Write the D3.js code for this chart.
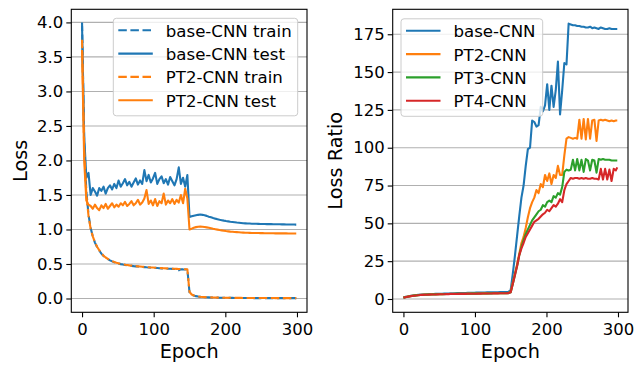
<!DOCTYPE html>
<html lang="en">

<head>
  <meta charset="UTF-8" />
  <title>Loss and Loss Ratio per Epoch</title>
  <script src="https://d3js.org/d3.v7.min.js"></script>
  <style>
    body {
      margin: 0;
      background: #fff;
    }

    svg text {
      font-family: "DejaVu Sans", sans-serif;
      fill: #000;
    }

    .grid line {
      stroke: #b0b0b0;
      stroke-width: 1.1px;
    }

    .series {
      fill: none;
      stroke-width: 2.1px;
      stroke-linejoin: round;
    }
  </style>
</head>

<body>
  <svg width="643" height="371"></svg>

  <script>
    // epochs sampled every 3 (plus the last one)
    const epochs = [
      0, 3, 6, 9, 12, 15, 18, 21, 24, 27, 30, 33, 36, 39, 42, 45, 48, 51, 54, 57,
      60, 63, 66, 69, 72, 75, 78, 81, 84, 87, 90, 93, 96, 99, 102, 105, 108, 111, 114, 117,
      120, 123, 126, 129, 132, 135, 138, 141, 144, 147, 150, 153, 156, 159, 162, 165, 168, 171, 174, 177,
      180, 183, 186, 189, 192, 195, 198, 201, 204, 207, 210, 213, 216, 219, 222, 225, 228, 231, 234, 237,
      240, 243, 246, 249, 252, 255, 258, 261, 264, 267, 270, 273, 276, 279, 282, 285, 288, 291, 294, 297, 299
    ];

    // left panel: loss
    const baseTrain = [
      4.0, 2.25, 1.55, 1.22, 1.02, 0.9, 0.81, 0.745, 0.695, 0.65,
      0.615, 0.59, 0.57, 0.553, 0.538, 0.525, 0.514, 0.505, 0.498, 0.492,
      0.487, 0.482, 0.477, 0.473, 0.469, 0.466, 0.463, 0.46, 0.457, 0.455,
      0.452, 0.45, 0.447, 0.445, 0.443, 0.441, 0.439, 0.437, 0.435, 0.434,
      0.432, 0.43, 0.429, 0.427, 0.426, 0.41, 0.424, 0.422, 0.421, 0.42,
      0.09, 0.055, 0.042, 0.034, 0.028, 0.024, 0.021, 0.019, 0.017, 0.016,
      0.015, 0.014, 0.013, 0.012, 0.011, 0.011, 0.01, 0.01, 0.009, 0.009,
      0.009, 0.008, 0.008, 0.008, 0.008, 0.007, 0.007, 0.007, 0.007, 0.007,
      0.006, 0.006, 0.006, 0.006, 0.006, 0.006, 0.006, 0.006, 0.006, 0.006,
      0.005, 0.005, 0.005, 0.005, 0.005, 0.005, 0.005, 0.005, 0.005, 0.005, 0.005
    ];
    const baseTest = [
      3.95, 2.35, 1.75, 1.82, 1.5, 1.6, 1.55, 1.49, 1.6, 1.56,
      1.62, 1.52, 1.6, 1.64, 1.58, 1.66, 1.6, 1.71, 1.62, 1.67,
      1.73, 1.64, 1.69, 1.62, 1.68, 1.74, 1.65, 1.71, 1.66, 1.86,
      1.7, 1.79, 1.68, 1.74, 1.82, 1.66, 1.73, 1.77, 1.67, 1.73,
      1.65, 1.76, 1.7, 1.64, 1.73, 1.9, 1.66, 1.75, 1.62, 1.79,
      1.18, 1.19, 1.2, 1.206, 1.212, 1.216, 1.212, 1.206, 1.197, 1.186,
      1.176, 1.166, 1.157, 1.149, 1.141, 1.135, 1.128, 1.122, 1.117, 1.112,
      1.108, 1.104, 1.1, 1.097, 1.094, 1.091, 1.089, 1.087, 1.086, 1.084,
      1.083, 1.082, 1.081, 1.08, 1.079, 1.079, 1.078, 1.077, 1.077, 1.076,
      1.076, 1.075, 1.075, 1.074, 1.074, 1.073, 1.073, 1.072, 1.072, 1.071, 1.071
    ];
    const ptTrain = [
      3.75, 2.15, 1.5, 1.2, 1.01, 0.9, 0.815, 0.75, 0.7, 0.655,
      0.62, 0.594, 0.574, 0.557, 0.542, 0.529, 0.518, 0.509, 0.502, 0.496,
      0.49, 0.485, 0.48, 0.476, 0.472, 0.469, 0.466, 0.463, 0.46, 0.458,
      0.455, 0.453, 0.45, 0.448, 0.446, 0.444, 0.442, 0.44, 0.438, 0.437,
      0.435, 0.433, 0.432, 0.43, 0.429, 0.427, 0.426, 0.425, 0.424, 0.423,
      0.095, 0.058, 0.044, 0.035, 0.029, 0.025, 0.022, 0.02, 0.018, 0.017,
      0.016, 0.015, 0.014, 0.013, 0.012, 0.012, 0.011, 0.011, 0.01, 0.01,
      0.01, 0.009, 0.009, 0.009, 0.009, 0.008, 0.008, 0.008, 0.008, 0.008,
      0.007, 0.007, 0.007, 0.007, 0.007, 0.007, 0.007, 0.007, 0.007, 0.007,
      0.006, 0.006, 0.006, 0.006, 0.006, 0.006, 0.006, 0.006, 0.006, 0.006, 0.006
    ];
    const ptTest = [
      3.6, 2.0, 1.42, 1.36, 1.34, 1.3, 1.36, 1.31, 1.28, 1.35,
      1.31, 1.37, 1.3, 1.34, 1.38, 1.32, 1.36, 1.33, 1.38, 1.35,
      1.4, 1.34, 1.37, 1.41, 1.35, 1.38, 1.43, 1.36, 1.39, 1.45,
      1.57, 1.37, 1.42, 1.35, 1.44, 1.34, 1.41, 1.38, 1.52, 1.36,
      1.42, 1.38, 1.44, 1.37, 1.43, 1.39, 1.5, 1.38, 1.59, 1.45,
      1.0, 1.012, 1.025, 1.034, 1.04, 1.043, 1.04, 1.036, 1.03, 1.024,
      1.017, 1.01, 1.004, 0.998, 0.992, 0.987, 0.982, 0.977, 0.973, 0.969,
      0.966, 0.963, 0.961, 0.959, 0.957, 0.955, 0.953, 0.952, 0.951, 0.95,
      0.949, 0.948, 0.948, 0.947, 0.947, 0.946, 0.946, 0.945, 0.945, 0.945,
      0.944, 0.944, 0.944, 0.943, 0.943, 0.943, 0.942, 0.942, 0.942, 0.942, 0.942
    ];

    // right panel: loss ratio
    const baseRatio = [
      1.0, 1.4, 1.7, 2.0, 2.2, 2.4, 2.6, 2.75, 2.9, 3.0,
      3.1, 3.15, 3.2, 3.25, 3.3, 3.35, 3.4, 3.45, 3.5, 3.55,
      3.6, 3.65, 3.7, 3.75, 3.8, 3.85, 3.9, 3.95, 4.0, 4.0,
      4.05, 4.1, 4.1, 4.15, 4.2, 4.2, 4.25, 4.3, 4.3, 4.35,
      4.4, 4.4, 4.45, 4.5, 4.5, 4.55, 4.6, 4.6, 4.65, 4.7,
      6, 17, 29, 42, 55, 67, 75, 88, 99, 100,
      118, 117, 114, 115, 127, 124, 128, 142, 125, 141,
      127, 138, 157, 122, 138, 156, 155, 182, 181.5, 181,
      181, 180.5, 180.5, 180, 180, 179.5, 179.5, 180, 179, 179.5,
      179, 178.5, 179.5, 179, 178.5, 178.5, 179, 178.5, 178.5, 178.5, 178.5
    ];
    const pt2Ratio = [
      1.0, 1.3, 1.6, 1.9, 2.1, 2.3, 2.45, 2.6, 2.7, 2.8,
      2.9, 2.95, 3.0, 3.05, 3.1, 3.1, 3.15, 3.2, 3.2, 3.25,
      3.3, 3.3, 3.35, 3.35, 3.4, 3.4, 3.45, 3.45, 3.5, 3.5,
      3.55, 3.55, 3.6, 3.6, 3.6, 3.65, 3.65, 3.7, 3.7, 3.7,
      3.75, 3.75, 3.8, 3.8, 3.8, 3.85, 3.85, 3.9, 3.9, 3.95,
      5, 11, 17, 23, 30, 37, 41, 47, 54, 60,
      64, 67, 72, 70, 76, 74, 82, 78, 83, 76,
      82, 80, 88, 82, 82, 95, 106, 107, 106.5, 106,
      106.5, 106, 118.5, 106, 119, 105.5, 119, 106, 118, 118.5,
      104.5, 118, 118.5, 118, 118.5, 118, 117.5, 118, 117.5, 118, 118
    ];
    const pt3Ratio = [
      0.9, 1.2, 1.5, 1.8, 2.0, 2.2, 2.4, 2.55, 2.65, 2.75,
      2.85, 2.9, 2.95, 3.0, 3.05, 3.05, 3.1, 3.15, 3.15, 3.2,
      3.25, 3.25, 3.3, 3.3, 3.35, 3.35, 3.4, 3.4, 3.45, 3.45,
      3.5, 3.5, 3.55, 3.55, 3.55, 3.6, 3.6, 3.65, 3.65, 3.65,
      3.7, 3.7, 3.75, 3.75, 3.75, 3.8, 3.8, 3.85, 3.85, 3.9,
      4.5, 10, 16, 22, 29, 34.5, 39, 43, 46, 49,
      52, 54, 56, 58, 59, 62, 61, 64, 65, 64,
      68, 67, 70, 69, 74, 84, 85.5, 85, 85.5, 92,
      85, 92.5, 85, 92, 84, 92.5, 91.5, 85, 92, 91.5,
      83.5, 92.5, 92, 92.5, 92, 92, 92, 91.5, 91.5, 91.5, 91.5
    ];
    const pt4Ratio = [
      0.9, 1.2, 1.5, 1.75, 1.95, 2.15, 2.35, 2.5, 2.6, 2.7,
      2.8, 2.85, 2.9, 2.95, 3.0, 3.0, 3.05, 3.1, 3.1, 3.15,
      3.2, 3.2, 3.25, 3.25, 3.3, 3.3, 3.35, 3.35, 3.4, 3.4,
      3.45, 3.45, 3.5, 3.5, 3.5, 3.55, 3.55, 3.6, 3.6, 3.6,
      3.65, 3.65, 3.7, 3.7, 3.7, 3.75, 3.75, 3.8, 3.8, 3.85,
      4.5, 10, 16, 22, 29, 33.5, 37, 41, 43.5, 46,
      48.5, 51, 52, 53, 54.5, 56, 57, 59, 58, 60,
      62, 61, 63, 66, 64, 72, 76, 78, 80, 79.5,
      80, 80, 79.5, 80, 79.5, 80, 79.5, 79.5, 80, 79.5,
      79.5, 79, 86, 79, 86, 79, 85.5, 78, 86, 85, 87
    ];

    const lossTicks = [0, 0.5, 1.0, 1.5, 2.0, 2.5, 3.0, 3.5, 4.0];
    const ratioTicks = [0, 25, 50, 75, 100, 125, 150, 175];
    const epochTicks = [0, 100, 200, 300];

    const blue = "#1f77b4", orange = "#ff7f0e", green = "#2ca02c", red = "#d62728";

    const svg = d3.select("svg");
    const plotTop = 9.3, plotBottom = 312.3;

    function panel(cfg) {
      const x = d3.scaleLinear().domain([-15, 314]).range([cfg.left, cfg.right]);
      const y = d3.scaleLinear().domain(cfg.yDomain).range([plotBottom, plotTop]);
      const g = svg.append("g");

      // grid
      g.append("g").attr("class", "grid")
        .selectAll("line")
        .data(cfg.yTicks)
        .enter()
        .append("line")
        .attr("x1", cfg.left).attr("x2", cfg.right)
        .attr("y1", d => y(d)).attr("y2", d => y(d));

      // lines
      const clipId = cfg.id + "-clip";
      g.append("clipPath").attr("id", clipId)
        .append("rect")
        .attr("x", cfg.left).attr("y", plotTop)
        .attr("width", cfg.right - cfg.left).attr("height", plotBottom - plotTop);
      const line = d3.line()
        .x((d, i) => x(epochs[i]))
        .y(d => y(d));
      g.append("g").attr("clip-path", `url(#${clipId})`)
        .selectAll("path")
        .data(cfg.series)
        .enter()
        .append("path")
        .attr("class", "series")
        .attr("d", s => line(s.values))
        .attr("stroke", s => s.color)
        .attr("stroke-dasharray", s => s.dashed ? "8.5,3.6" : null);

      // axes
      const xAxis = d3.axisBottom(x).tickValues(epochTicks).tickSize(5).tickPadding(6.3)
        .tickFormat(d3.format("d"));
      const yAxis = d3.axisLeft(y).tickValues(cfg.yTicks).tickSize(5).tickPadding(3)
        .tickFormat(cfg.fmt);
      const gx = g.append("g").attr("transform", `translate(0,${plotBottom})`).call(xAxis);
      const gy = g.append("g").attr("transform", `translate(${cfg.left},0)`).call(yAxis);
      [gx, gy].forEach(a => {
        a.select(".domain").remove();
        a.selectAll(".tick line").attr("stroke", "#000").attr("stroke-width", 1.1);
        a.selectAll(".tick text").attr("font-size", 16.5).attr("fill", "#000");
      });

      // frame
      g.append("rect")
        .attr("x", cfg.left).attr("y", plotTop)
        .attr("width", cfg.right - cfg.left).attr("height", plotBottom - plotTop)
        .attr("fill", "none").attr("stroke", "#000").attr("stroke-width", 1.1);

      // labels
      g.append("text")
        .attr("x", (cfg.left + cfg.right) / 2).attr("y", 358.3)
        .attr("text-anchor", "middle").attr("font-size", 19.3)
        .text("Epoch");
      g.append("text")
        .attr("transform", `translate(${cfg.yLabelX},${(plotTop + plotBottom) / 2}) rotate(-90)`)
        .attr("text-anchor", "middle").attr("font-size", 19.3)
        .text(cfg.yLabel);

      // legend
      const lg = cfg.legend;
      const leg = g.append("g").attr("transform", `translate(${lg.x},${lg.y})`);
      leg.append("rect")
        .attr("width", lg.w).attr("height", 97.5)
        .attr("rx", 3).attr("fill", "#fff").attr("fill-opacity", 0.8)
        .attr("stroke", "#cccccc").attr("stroke-width", 1);
      const rows = leg.selectAll(".row")
        .data(cfg.series)
        .enter()
        .append("g")
        .attr("transform", (d, i) => `translate(0,${12 + i * 23.3})`);
      rows.append("line")
        .attr("x1", 5).attr("x2", 39.5)
        .attr("stroke", d => d.color).attr("stroke-width", 2.1)
        .attr("stroke-dasharray", d => d.dashed ? "8.5,3.6" : null);
      rows.append("text")
        .attr("x", 52.5).attr("y", 6.5)
        .attr("font-size", 16.6)
        .text(d => d.name);
    }

    panel({
      id: "loss",
      left: 71.3, right: 307,
      yDomain: [-0.2, 4.19],
      yTicks: lossTicks,
      fmt: d3.format(".1f"),
      yLabel: "Loss",
      yLabelX: 26.5,
      legend: { x: 113.3, y: 18.3, w: 184.4 },
      series: [
        { name: "base-CNN train", values: baseTrain, color: blue, dashed: true },
        { name: "base-CNN test", values: baseTest, color: blue },
        { name: "PT2-CNN train", values: ptTrain, color: orange, dashed: true },
        { name: "PT2-CNN test", values: ptTest, color: orange }
      ]
    });

    panel({
      id: "ratio",
      left: 392.7, right: 628,
      yDomain: [-8.8, 191.5],
      yTicks: ratioTicks,
      fmt: d3.format("d"),
      yLabel: "Loss Ratio",
      yLabelX: 342,
      legend: { x: 401, y: 18.8, w: 141.7 },
      series: [
        { name: "base-CNN", values: baseRatio, color: blue },
        { name: "PT2-CNN", values: pt2Ratio, color: orange },
        { name: "PT3-CNN", values: pt3Ratio, color: green },
        { name: "PT4-CNN", values: pt4Ratio, color: red }
      ]
    });
  </script>
</body>

</html>
